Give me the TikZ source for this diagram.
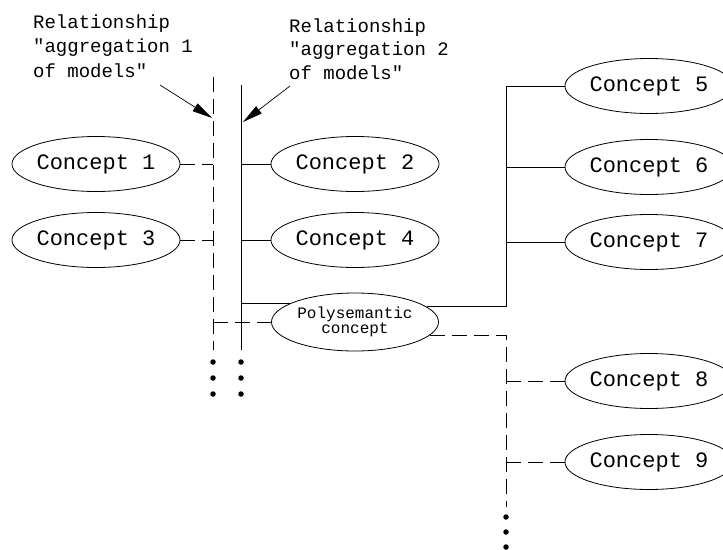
\documentclass[tikz,border=0pt]{standalone}
\usepackage{fontspec}
\newfontfamily\cadfont{Liberation Mono}
\usetikzlibrary{shapes.geometric,arrows.meta}
\tikzset{
  concept/.style={ellipse,draw,line width=0.8pt,inner sep=0pt,minimum width=167pt,minimum height=55pt,
    font=\cadfont\fontsize{22}{22}\selectfont},
  polynode/.style={ellipse,draw,line width=0.8pt,inner sep=0pt,minimum width=167pt,minimum height=58pt,
    align=center,font=\cadfont\fontsize{16}{15}\selectfont},
  lbl/.style={anchor=base west,inner sep=0pt,font=\cadfont\fontsize{19}{19}\selectfont},
  solidln/.style={line width=0.8pt},
  dashln/.style={line width=0.8pt,dash pattern=on 15pt off 7pt},
  pointer/.style={line width=0.7pt,-{Triangle[length=20pt,width=9pt]}},
  dotmark/.style={circle,fill,inner sep=0pt,minimum size=5.5pt}
}
\begin{document}
\begin{tikzpicture}[x=1pt,y=-1pt]
\clip (0,0) rectangle (723,549);
\fill[white] (0,0) rectangle (723,549);
% labels
\node[lbl] (a1) at (33,28) {Relationship};
\node[lbl] (a2) at (33,52) {"aggregation 1};
\node[lbl] (a3) at (33,77) {of models"};
\node[lbl] (b1) at (289,32) {Relationship};
\node[lbl] (b2) at (289,55) {"aggregation 2};
\node[lbl] (b3) at (289,79) {of models"};
% aggregation lines
\coordinate (l1top) at (213,77);
\coordinate (l1bot) at (213,350);
\coordinate (l2top) at (241,85);
\coordinate (l2bot) at (241,350);
\draw[dashln] (l1top) -- (l1bot);
\draw[solidln] (l2top) -- (l2bot);
\coordinate (p1s) at (160,85);
\coordinate (p1e) at (212,118);
\coordinate (p2s) at (290,86);
\coordinate (p2e) at (243,122);
\draw[pointer] (p1s) -- (p1e);
\draw[pointer] (p2s) -- (p2e);
% concepts
\node[concept] (c1) at (96,164) {Concept 1};
\node[concept] (c3) at (96,240) {Concept 3};
\node[concept] (c2) at (355,164) {Concept 2};
\node[concept] (c4) at (355,240) {Concept 4};
\node[polynode] (ps) at (355,322) {Polysemantic\\concept};
\node[concept] (c5) at (649,86) {Concept 5};
\node[concept] (c6) at (649,167) {Concept 6};
\node[concept] (c7) at (649,242) {Concept 7};
\node[concept] (c8) at (649,381) {Concept 8};
\node[concept] (c9) at (649,462) {Concept 9};
% left connectors
\draw[dashln] (c1.east) -- (c1.east -| l1top);
\draw[dashln] (c3.east) -- (c3.east -| l1top);
\draw[solidln] (c2.west -| l2top) -- (c2.west);
\draw[solidln] (c4.west -| l2top) -- (c4.west);
\draw[solidln] (ps.164 -| l2top) -- (ps.164);
\draw[dashln] (ps.west -| l1top) -- (ps.west);
% right solid tree
\coordinate (jr) at (506,86);
\draw[solidln] (ps.12) -| (jr) -- (c5.west);
\draw[solidln] (c6.west -| jr) -- (c6.west);
\draw[solidln] (c7.west -| jr) -- (c7.west);
% right dashed tree
\coordinate (jd) at (506,507);
\draw[dashln] (ps.-10) -| (jd);
\draw[dashln] (c8.west -| jd) -- (c8.west);
\draw[dashln] (c9.west -| jd) -- (c9.west);
% continuation dots
\foreach \yy [count=\i] in {362,378,394}{
  \node[dotmark] (d1\i) at (213,\yy) {};
  \node[dotmark] (d2\i) at (241,\yy) {};
}
\foreach \yy [count=\i] in {517,532,547}{
  \node[dotmark] (d3\i) at (506,\yy) {};
}
\end{tikzpicture}
\end{document}
